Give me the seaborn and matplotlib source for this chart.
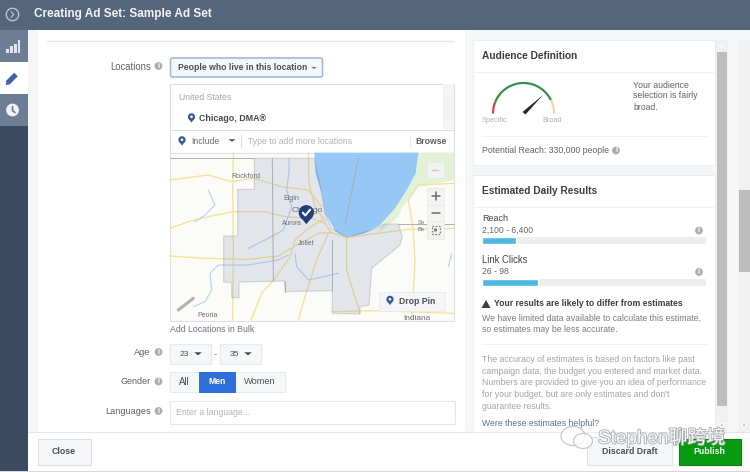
import matplotlib
matplotlib.use("Agg")
import matplotlib.pyplot as plt
from matplotlib.patches import Polygon, Rectangle, Circle, FancyBboxPatch, Ellipse
import matplotlib.patheffects as pe
import numpy as np
import seaborn as sns

# Values
result_names = ["Reach", "Link Clicks"]
result_ranges = ["2,100 - 6,400", "26 - 98"]
result_fill = [15, 25]
age_values = ["23", "35"]
gender_options = ["All", "Men", "Women"]
reach_text = "Potential Reach: 330,000 people"

sns.set_theme(style="white")
plt.rcParams["font.family"] = ["Liberation Sans", "Noto Sans CJK SC", "DejaVu Sans"]

W, H = 750, 472
fig = plt.figure(figsize=(W / 100, H / 100), dpi=100, facecolor="white")
ax = fig.add_axes([0, 0, 1, 1])
ax.set_xlim(0, W)
ax.set_ylim(H, 0)
ax.axis("off")
renderer = fig.canvas.get_renderer()


def rect(x0, y0, x1, y1, fc, ec="none", lw=0.8, z=1):
    ax.add_patch(Rectangle((x0, y0), x1 - x0, y1 - y0, fc=fc, ec=ec, lw=lw, zorder=z))


def txt(x, y, s, w=None, size=7.0, color="#4b4f56", weight="normal", ha="left", z=6, **kw):
    """Text; w is the width in pixels that it takes in the reference."""
    t = ax.text(x, y, s, fontsize=size, color=color, fontweight=weight, ha=ha, va="center", zorder=z, **kw)
    if w is not None:
        t.set_fontsize(size * w / t.get_window_extent(renderer).width)
    return t


def tri(x, y, w=4, h=3, c="#4b4f56", z=6):
    ax.add_patch(Polygon([(x - w, y - h / 2), (x + w, y - h / 2), (x, y + h / 2)], fc=c, ec="none", zorder=z))


def info(x, y, r=3.9, c="#a9aeb5"):
    ax.add_patch(Circle((x, y), r, fc=c, ec="none", zorder=6))
    ax.text(x, y + 0.2, "i", fontsize=5, color="white", fontweight="bold", ha="center", va="center", zorder=7)


def pin(x, y, s=1.0, c="#3b5998", z=7):
    ax.add_patch(Circle((x, y - 1.2 * s), 3.6 * s, fc=c, ec="none", zorder=z))
    ax.add_patch(Polygon([(x - 3.2 * s, y), (x + 3.2 * s, y), (x, y + 4.6 * s)], fc=c, ec="none", zorder=z))
    ax.add_patch(Circle((x, y - 1.2 * s), 1.3 * s, fc="white", ec="none", zorder=z + 1))


# ---------- shell ----------
rect(0, 0, W, H, "#f5f6f7", z=0)
rect(0, 0, W, 30, "#55667c")
rect(0, 30, 28, H, "#3b4a5e")
rect(0, 30, 28, 62, "#6d7e94")
rect(0, 62, 28, 94, "#ffffff")
rect(0, 94, 28, 126, "#6d7e94")
rect(38, 30, 465, 432, "#ffffff")
rect(28, 432, W, 471, "#ffffff")
ax.plot([28, W], [432, 432], color="#e3e5e8", lw=0.8, zorder=2)
rect(0, 470.5, W, H, "#d5d8dc", z=2)
ax.plot([47, 454], [41, 41], color="#e4e6e9", lw=1, zorder=2)

ax.add_patch(Circle((12.5, 14.5), 6.2, fc="none", ec="#b9c3cf", lw=1, zorder=3))
ax.plot([11.2, 13.8, 11.2], [11.8, 14.5, 17.2], color="#b9c3cf", lw=0.9, zorder=4)
txt(33.5, 14, "Creating Ad Set: Sample Ad Set", w=176.5, size=9, color="#f2f4f6", weight="bold")

# sidebar icons
for bx, by0 in zip([6, 10, 14, 17.5], [49, 46, 44, 40]):
    rect(bx, by0, bx + 2.6, 52.5, "#e3e7ec", z=3)
ax.plot([7.5, 16], [83, 74.5], color="#3f62a6", lw=3.6, solid_capstyle="butt", zorder=3)
ax.add_patch(Polygon([(5.8, 85), (6.3, 81.6), (9.2, 84.4)], fc="#3f62a6", ec="none", zorder=3))
ax.add_patch(Circle((12.5, 110), 6.4, fc="#f0f2f5", ec="none", zorder=3))
ax.plot([12.5, 12.5, 15], [106.5, 110.5, 112.5], color="#6d7e94", lw=1.2, zorder=4)

# ---------- location form ----------
txt(110, 66.5, "Locations", w=40.7, color="#5c6068")
info(158.5, 66)
ax.add_patch(FancyBboxPatch((170.5, 58), 152, 19, boxstyle="round,pad=0,rounding_size=2",
                            fc="#f6f7f9", ec="#9db4dc", lw=1.1, zorder=3))
txt(177.7, 67.5, "People who live in this location", w=129.6, weight="bold")
tri(314, 68, 3, 2.2, "#7b8088")

rect(170, 84, 454, 152.5, "#ffffff", ec="#dadde1", z=2)
ax.plot([170, 454], [129.5, 129.5], color="#dddfe2", lw=0.8, zorder=3)
rect(443, 84, 453.5, 129, "#f3f3f3", z=3)
ax.add_patch(Polygon([(445.5, 92), (450.5, 92), (448, 89)], fc="#b0b0b0", zorder=4))
ax.add_patch(Polygon([(445.5, 121), (450.5, 121), (448, 124)], fc="#b0b0b0", zorder=4))
txt(179.3, 97, "United States", w=52.4, color="#a3a7ae")
pin(191.5, 118, 1.0)
txt(199.3, 118.5, "Chicago, DMA®", w=66.4, weight="bold", color="#44484f")
pin(182, 141, 1.0)
txt(191.3, 141, "Include", w=28, color="#686d75")
tri(232, 140.5, 3.4, 2.6)
ax.plot([241, 241], [135, 147], color="#dddfe2", lw=0.8, zorder=4)
txt(248.3, 141.5, "Type to add more locations", w=104.4, color="#b0b3b9")
ax.plot([410, 410], [136, 147], color="#e8e9eb", lw=0.8, zorder=4)
txt(415.7, 141, "Browse", w=31, weight="bold", color="#5a5e65")


# ---------- map (coordinates measured in a 3x crop) ----------
def M(points):
    return [(165 + px / 3, 150 + py / 3) for px, py in points]


def mline(points, color, lw, z=3):
    p = np.array(M(points))
    ax.plot(p[:, 0], p[:, 1], color=color, lw=lw, zorder=z, solid_capstyle="round", solid_joinstyle="round")


rect(170, 152.5, 454, 320.5, "#fbfbf8", ec="#dfe1e4", z=2)
ax.add_patch(Polygon(M([(700, 8), (868, 8), (868, 90), (760, 110), (712, 170), (700, 200), (640, 250), (700, 60)]),
                     fc="#e3f1d6", ec="none", zorder=2.5))
ax.add_patch(Polygon(M([(448, 8), (760, 8), (752, 70), (725, 120), (690, 175), (645, 225), (600, 250), (545, 262),
                        (512, 245), (495, 215), (480, 190), (470, 130), (452, 70)]),
                     fc="#97c8f5", ec="none", zorder=3))
# roads
yellow = "#f4e291"
for road in [
    [(15, 235), (70, 215), (130, 200), (205, 185), (300, 185), (360, 200), (440, 205), (480, 220), (500, 250)],
    [(15, 318), (120, 325), (250, 328), (340, 318), (395, 285), (460, 250), (500, 248), (545, 262), (640, 250),
     (730, 238), (868, 235)],
    [(205, 8), (203, 120), (205, 300), (203, 510)],
    [(258, 510), (290, 430), (330, 385), (375, 320), (390, 270), (430, 235), (470, 210)],
    [(400, 510), (420, 440), (455, 330), (490, 250)],
    [(545, 262), (545, 360), (585, 490)],
    [(15, 90), (130, 75), (200, 95), (268, 85), (350, 110), (430, 120), (470, 170)],
    [(430, 8), (432, 100), (450, 170), (480, 215)],
    [(868, 100), (760, 105), (730, 150), (745, 240), (750, 340), (740, 510)],
    [(500, 485), (640, 482), (868, 490)],
]:
    mline(road, yellow, 0.9)
# rivers
blue = "#b5d4f1"
for river in [
    [(160, 345), (135, 370), (140, 420), (120, 455), (85, 470)],
    [(160, 345), (250, 345), (340, 330), (370, 315)],
    [(130, 120), (150, 165), (120, 195), (90, 215)],
    [(372, 25), (372, 65), (365, 120), (380, 170), (355, 240), (310, 265), (250, 295)],
    [(390, 310), (395, 350), (430, 390), (520, 370)],
    [(860, 310), (850, 350)],
]:
    mline(river, blue, 0.8)
# grey highway
mline([(40, 480), (85, 445)], "#b5b2a8", 2.2)
# selected region
ax.add_patch(Polygon(
    M([(268, 25), (448, 25), (470, 130), (480, 190), (500, 235), (545, 262), (620, 240), (660, 222), (700, 222),
       (712, 260), (705, 285), (665, 318), (620, 355), (612, 465), (585, 470), (585, 492), (502, 490), (502, 422),
       (360, 425), (358, 393), (222, 396), (222, 443), (200, 443), (200, 398), (176, 396), (176, 258), (218, 258),
       (218, 118), (268, 118)]),
    fc="#7f8db3", alpha=0.2, ec="#5f6672", lw=0.9, zorder=4))
for line in [[(322, 25), (325, 393)], [(502, 270), (502, 422)], [(360, 393), (360, 425)],
             [(15, 25), (268, 25)], [(580, 25), (540, 225)], [(700, 222), (868, 222)]]:
    mline(line, "#a9adb5", 0.7, z=4.5)
# place names
for px, py, name, wid in [(198, 78, "Rockford", 29), (355, 145, "Elgin", 15.7),
                          (350, 220, "Aurora", 20), (398, 280, "Joliet", 16.6),
                          (98, 497, "Peoria", 20), (381, 181, "Chicago", 31),
                          (758, 217, "So", 7), (758, 238, "Be", 7),
                          (716, 507, "Indiana", 27)]:
    xx, yy = M([(px, py)])[0]
    txt(xx, yy, name, w=wid, color="#686f80", z=5)
# marker
cx, cy = M([(424, 188)])[0]
ax.add_patch(Circle((cx, cy), 7.6, fc="#243f78", ec="none", zorder=8))
ax.add_patch(Polygon([(cx - 6.6, cy + 3.6), (cx + 6.6, cy + 3.6), (cx, cy + 11.5)], fc="#243f78", ec="none", zorder=8))
ax.plot([cx - 3.5, cx - 1, cx + 3.8], [cy, cy + 2.8, cy - 3], color="white", lw=1.5, zorder=9)
# map buttons
for y0, y1 in [(162, 178), (188, 205), (205, 221), (221, 239)]:
    rect(427, y0, 444, y1, "#f3f3f2", ec="#e7e7e5", lw=0.5, z=5)
ax.plot([432, 438], [170, 170], color="#c9c9c9", lw=1, zorder=6)
ax.plot([431.5, 439.5], [196.2, 196.2], color="#666a70", lw=1.1, zorder=6)
ax.plot([435.5, 435.5], [192.2, 200.2], color="#666a70", lw=1.1, zorder=6)
ax.plot([431.5, 439.5], [212.5, 212.5], color="#666a70", lw=1.1, zorder=6)
ax.add_patch(Rectangle((431.5, 226), 8, 8, fc="none", ec="#75797f", lw=0.9, ls=(0, (1.3, 1.3)), zorder=6))
ax.add_patch(Circle((435.5, 230), 1.6, fc="#75797f", ec="none", zorder=6))
rect(379, 292, 445, 311, "#f4f5f6", ec="#e7e8ea", lw=0.5, z=5)
pin(390, 300.5, 1.0)
txt(399, 301, "Drop Pin", w=36, weight="bold", color="#4c5058")

txt(169.7, 330, "Add Locations in Bulk", w=84.3, color="#6d7484")

# ---------- age / gender / languages ----------
txt(134.3, 352.5, "Age", w=16.4, color="#5c6068")
info(158.5, 352)
for x0, x1, v in zip([170, 220], [211, 261], age_values):
    rect(x0, 344, x1, 363.5, "#f6f7f9", ec="#e9eaed", lw=0.7, z=3)
    txt(x0 + 9.3, 354, v, w=9.4, color="#4b4f56")
    tri(x0 + 28, 353.8, 3.8, 3, "#3f4248")
txt(215.5, 354, "-", ha="center", color="#80848b")

txt(120.7, 382, "Gender", w=30, color="#5c6068")
info(158.5, 381.5)
rect(170, 372, 285, 392, "#f6f7f9", ec="#e9eaed", lw=0.7, z=3)
rect(199, 372, 236, 392.5, "#2f6fdc", z=4)
for gx, gw, g in zip([179.3, 208.7, 244], [10.7, 17.3, 31.7], gender_options):
    is_sel = g == "Men"
    txt(gx, 382, g, w=gw, weight="bold" if is_sel else "normal", color="white" if is_sel else "#4b4f56")

txt(105, 411, "Languages", w=45.7, color="#5c6068")
info(158.5, 411)
rect(170, 400.5, 454.5, 424, "#ffffff", ec="#e6e7ea", lw=0.8, z=3)
txt(176, 412.5, "Enter a language...", w=74, color="#b3b6bb")

# footer buttons
rect(37.5, 439, 90.5, 465, "#f6f7f9", ec="#dcdee2", lw=0.8, z=3)
txt(51.7, 451.5, "Close", w=24, weight="bold")
rect(587, 437, 672, 465, "#f6f7f9", ec="#e1e3e6", lw=0.8, z=3)
txt(602.3, 451.5, "Discard Draft", w=55, weight="bold")
rect(678.5, 439, 741, 465, "#0a9a12", ec="#0b7f10", lw=0.8, z=3)
txt(693.3, 451.5, "Publish", w=31.7, weight="bold", color="#f2fff2")

# ---------- right cards ----------
rect(473, 40, 715, 165, "#ffffff", ec="#e9ebee", lw=0.6, z=2)
rect(473, 175, 715, 432, "#ffffff", ec="#e9ebee", lw=0.6, z=2)
txt(481.7, 56, "Audience Definition", w=96, size=8, weight="bold", color="#3a3e45")
ax.plot([473, 715], [72, 72], color="#eef0f2", lw=0.8, zorder=3)

# gauge
gx, gy, gr = 523.5, 113.5, 30.5


def arc(a0, a1, color):
    t = np.radians(np.linspace(a0, a1, 50))
    ax.plot(gx + gr * np.cos(t), gy - gr * np.sin(t), color=color, lw=1.6, zorder=4, solid_capstyle="butt")


arc(180, 158, "#c64a4a")
arc(158, 26, "#2f9447")
arc(26, 0, "#f0d3a8")
ax.add_patch(Polygon([(522.5, 112), (525.5, 114.5), (543, 95)], fc="#24272b", ec="none", zorder=5))
txt(481.7, 120, "Specific", w=26, color="#b0b3b8")
txt(542.7, 120, "Broad", w=19.6, color="#b0b3b8")
for i, (line, wid) in enumerate(zip(["Your audience", "selection is fairly", "broad."], [55.7, 64, 24.4])):
    txt(633.3, 85 + i * 11, line, w=wid, color="#5f636a")
ax.plot([482, 706], [136, 136], color="#f0f1f3", lw=0.8, zorder=3)
txt(481.7, 150.5, reach_text, w=127.3, color="#5f636a")
info(616, 150.5)

txt(481.7, 191, "Estimated Daily Results", w=115.6, size=8, weight="bold", color="#3a3e45")
ax.plot([473, 715], [206.5, 206.5], color="#eef0f2", lw=0.8, zorder=3)

# progress bars through seaborn
for name, rng, fill, top, nw, rw in zip(result_names, result_ranges, result_fill, [237, 278.5],
                                        [26, 45.7], [51, 27]):
    txt(482, top - 18.5, name, w=nw, color="#3f4249")
    txt(482, top - 6.5, rng, w=rw, color="#5f636a")
    info(699, top - 6.5)
    bar = fig.add_axes([482 / W, 1 - (top + 7) / H, 224 / W, 7 / H], zorder=5)
    sns.barplot(x=[fill], y=[name], color="#4cb8e2", width=1, saturation=1, ax=bar)
    bar.set_xlim(0, 100)
    bar.set_ylim(0.5, -0.5)
    bar.set_axis_off()
    bar.add_patch(Rectangle((0, 0), 1, 1, transform=bar.transAxes, fc="#eceef0", ec="none", zorder=0))

# warning
ax.add_patch(Polygon([(481.5, 308), (490.5, 308), (486, 300)], fc="#3a3d42", ec="none", zorder=5))
txt(494, 303.5, "Your results are likely to differ from estimates", w=189.3, weight="bold", color="#3a3e45")
for i, (line, wid) in enumerate(zip(["We have limited data available to calculate this estimate,",
                                     "so estimates may be less accurate."], [219, 135.7])):
    txt(481.7, 318 + i * 11.7, line, w=wid, color="#767a81")
ax.plot([482, 706], [344, 344], color="#f0f1f3", lw=0.8, zorder=3)
for i, (line, wid) in enumerate(zip(["The accuracy of estimates is based on factors like past",
                                     "campaign data, the budget you entered and market data.",
                                     "Numbers are provided to give you an idea of performance",
                                     "for your budget, but are only estimates and don't",
                                     "guarantee results."], [213, 219, 223, 187, 69])):
    txt(482, 359.5 + i * 11.65, line, w=wid, color="#a2a5ab")
txt(482, 423, "Were these estimates helpful?", w=117.3, color="#5a6f9e")

# scrollbars
rect(716, 40, 728, 432, "#f1f1f1", z=2)
rect(717, 52, 727, 406, "#bdbdbd", z=3)
ax.add_patch(Polygon([(719.5, 46.5), (724.5, 46.5), (722, 44)], fc="#a5a5a5", zorder=4))
ax.add_patch(Polygon([(719.5, 424), (724.5, 424), (722, 427)], fc="#4d4d4d", zorder=4))
rect(738, 40, 750, 432, "#f1f1f1", z=2)
rect(739, 190, 750, 272, "#bdbdbd", z=3)
ax.add_patch(Polygon([(741.5, 424), (746.5, 424), (744, 427)], fc="#4d4d4d", zorder=4))

# watermark
ax.add_patch(Ellipse((573, 436), 24, 19, fc="#ffffff", ec="#b5b8bc", lw=0.9, alpha=0.75, zorder=9))
ax.add_patch(Ellipse((583, 441), 19, 15, fc="#ffffff", ec="#b5b8bc", lw=0.9, alpha=0.75, zorder=9))
wm = txt(598, 437.5, "Stephen聊跨境", w=127, size=12, color="#fafafa", z=10)
wm.set_path_effects([pe.withStroke(linewidth=1.2, foreground="#a6a9ae")])

fig.savefig("out.png", dpi=100)
